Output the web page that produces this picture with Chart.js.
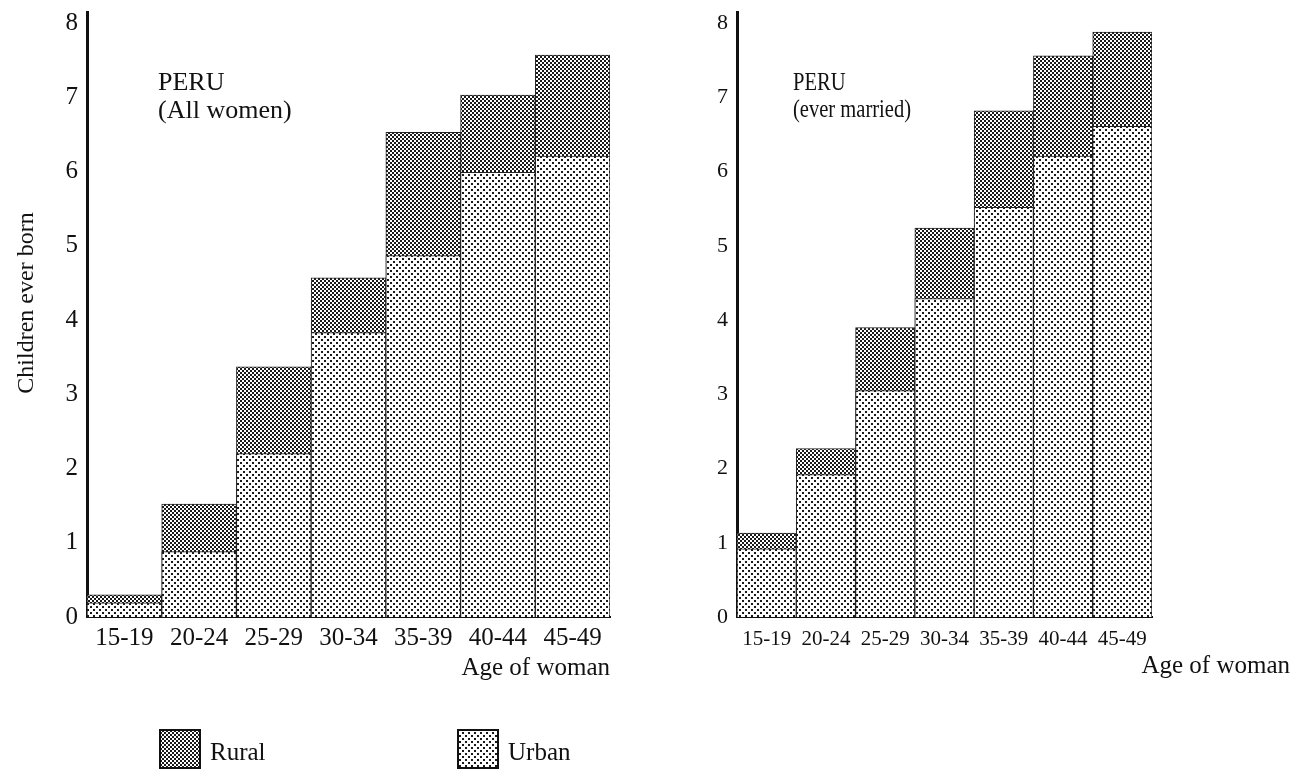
<!DOCTYPE html>
<html>
<head>
<meta charset="utf-8">
<script src="https://cdn.jsdelivr.net/npm/chart.js@4"></script>
<style>
    html, body { margin: 0; padding: 0; background: #fff; }
    body { width: 1301px; height: 774px; position: relative; overflow: hidden; }
    #leftBox { position: absolute; left: 0; top: 0; width: 640px; height: 774px; }
    #rightBox { position: absolute; left: 640px; top: 0; width: 661px; height: 700px; }
</style>
</head>
<body>
<div id="leftBox"><canvas id="chartAll"></canvas></div>
<div id="rightBox"><canvas id="chartMarried"></canvas></div>
<script>
// data
const ageGroups = ['15-19', '20-24', '25-29', '30-34', '35-39', '40-44', '45-49'];
const allRural = [0.30, 1.52, 3.37, 4.57, 6.53, 7.03, 7.57];
const allUrban = [0.19, 0.88, 2.20, 3.83, 4.87, 5.99, 6.21];
const marriedRural = [1.13, 2.27, 3.90, 5.24, 6.82, 7.56, 7.88];
const marriedUrban = [0.92, 1.92, 3.05, 4.29, 5.52, 6.21, 6.61];
const yTicks = [0, 1, 2, 3, 4, 5, 6, 7, 8];

const serif = '"Liberation Serif", "DejaVu Serif", serif';

// dotted screens like the printed figure
function makePattern(size, squares) {
    const c = document.createElement('canvas');
    c.width = size;
    c.height = size;
    const g = c.getContext('2d');
    g.fillStyle = '#fff';
    g.fillRect(0, 0, size, size);
    g.fillStyle = '#1a1a1a';
    squares.forEach(s => g.fillRect(s[0], s[1], s[2], s[2]));
    return g.createPattern(c, 'repeat');
}
const ruralFill = makePattern(4, [[0, 0, 2], [2, 2, 2]]);
const urbanFill = makePattern(6, [[0, 0, 2], [3, 3, 2]]);

// free text on the canvas (panel titles, axis names)
const panelText = {
    id: 'panelText',
    afterDraw(chart, args, o) {
        const ctx = chart.ctx;
        (o.items || []).forEach(t => {
            ctx.save();
            ctx.font = t.size + 'px ' + serif;
            ctx.fillStyle = '#111';
            ctx.textAlign = t.align || 'left';
            ctx.textBaseline = 'alphabetic';
            ctx.translate(t.x, t.y);
            if (t.rotate) ctx.rotate(t.rotate);
            ctx.scale(t.sx || 1, 1);
            ctx.fillText(t.text, 0, 0);
            ctx.restore();
        });
    }
};

// legend with the pattern swatches
const patternLegend = {
    id: 'patternLegend',
    afterDraw(chart, args, o) {
        if (!o.items) return;
        const ctx = chart.ctx;
        o.items.forEach(it => {
            const ds = chart.data.datasets.find(d => d.label === it.label);
            ctx.save();
            ctx.fillStyle = ds.backgroundColor;
            ctx.fillRect(it.x, it.y, 40, 38);
            ctx.lineWidth = 2;
            ctx.strokeStyle = '#111';
            ctx.strokeRect(it.x, it.y, 40, 38);
            ctx.font = '25px ' + serif;
            ctx.fillStyle = '#111';
            ctx.textBaseline = 'alphabetic';
            ctx.fillText(ds.label, it.x + 50, it.y + 30);
            ctx.restore();
        });
    }
};

function buildChart(canvasId, rural, urban, opts) {
    const barStyle = {
        borderColor: '#222',
        borderWidth: 1,
        grouped: false,
        categoryPercentage: 1,
        barPercentage: 1
    };
    return new Chart(document.getElementById(canvasId), {
        type: 'bar',
        data: {
            labels: ageGroups,
            datasets: [
                Object.assign({ label: 'Urban', data: urban, backgroundColor: urbanFill, order: 1 }, barStyle),
                Object.assign({ label: 'Rural', data: rural, backgroundColor: ruralFill, order: 2 }, barStyle)
            ]
        },
        options: {
            responsive: true,
            maintainAspectRatio: false,
            animation: false,
            layout: { padding: { top: 12, right: opts.padRight, left: 0, bottom: 0 } },
            plugins: {
                legend: { display: false },
                tooltip: { enabled: false },
                panelText: { items: opts.texts },
                patternLegend: { items: opts.legend }
            },
            scales: {
                x: {
                    grid: { display: false, drawTicks: false },
                    border: { display: true, color: '#111', width: 2 },
                    ticks: {
                        font: { family: serif, size: opts.xFont },
                        color: '#111',
                        padding: opts.xPad,
                        autoSkip: false,
                        maxRotation: 0
                    },
                    afterFit: s => {
                        s.height = opts.height - 617;
                        s.paddingLeft = 0;
                        s.paddingRight = 0;
                    }
                },
                y: {
                    min: 0,
                    max: 8.15,
                    grid: { display: false, drawTicks: false },
                    border: { display: true, color: '#111', width: 3 },
                    ticks: {
                        font: { family: serif, size: opts.yFont },
                        color: '#111',
                        padding: 9
                    },
                    afterBuildTicks: s => { s.ticks = yTicks.map(v => ({ value: v })); },
                    afterFit: s => {
                        s.width = opts.axisX;
                        s.paddingTop = 0;
                        s.paddingBottom = 0;
                    }
                }
            }
        },
        plugins: [panelText, patternLegend]
    });
}

const chartAll = buildChart('chartAll', allRural, allUrban, {
    height: 774,
    axisX: 87,
    padRight: 30,
    xFont: 25,
    yFont: 25,
    xPad: 6,
    texts: [
        { text: 'PERU', x: 158, y: 90, size: 26 },
        { text: '(All women)', x: 158, y: 118, size: 26 },
        { text: 'Children ever born', x: 33, y: 303, size: 24, align: 'center', rotate: -Math.PI / 2 },
        { text: 'Age of woman', x: 610, y: 675, size: 25, align: 'right' }
    ],
    legend: [
        { label: 'Rural', x: 160, y: 730 },
        { label: 'Urban', x: 458, y: 730 }
    ]
});

const chartMarried = buildChart('chartMarried', marriedRural, marriedUrban, {
    height: 700,
    axisX: 97,
    padRight: 149,
    xFont: 21,
    yFont: 22,
    xPad: 10,
    texts: [
        { text: 'PERU', x: 153, y: 90, size: 26, sx: 0.79 },
        { text: '(ever married)', x: 153, y: 117, size: 26, sx: 0.79 },
        { text: 'Age of woman', x: 650, y: 673, size: 25, align: 'right' }
    ]
});
</script>
</body>
</html>
